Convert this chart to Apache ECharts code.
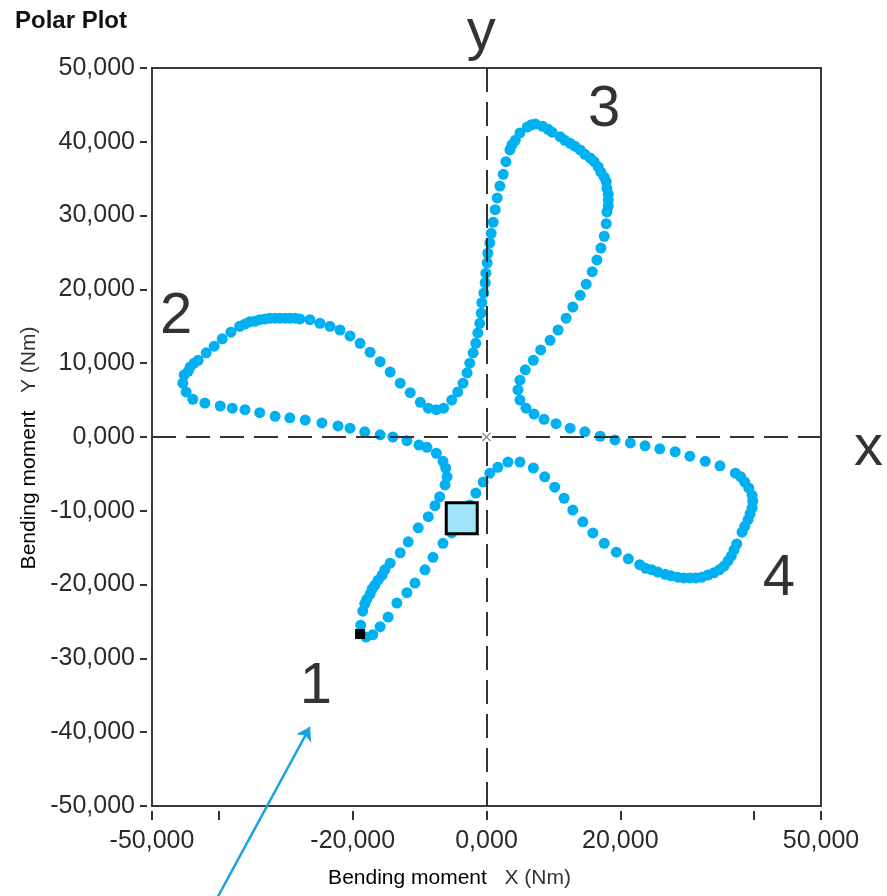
<!DOCTYPE html>
<html>
<head>
<meta charset="utf-8">
<script src="https://cdn.jsdelivr.net/npm/echarts@6/dist/echarts.min.js"></script>
<style>
  html, body { margin: 0; padding: 0; background: #fff; }
  #chart { width: 887px; height: 896px; }
</style>
</head>
<body>
<div id="chart"></div>
<script>
// Axis ticks / labels (values in Nm)
const xTickValues = [-50, -40, -20, 0, 20, 40, 50];
const xLabelValues = [-50, -20, 0, 20, 50];
const yTickValues = [-50, -40, -30, -20, -10, 0, 10, 20, 30, 40, 50];

// Bending moment trace, [X, Y] in Nm, in recording order
const tracePoints = [
  [-18.8,-25.5],[-18.5,-23.6],[-18.2,-22.6],[-17.9,-22.0],[-17.4,-21.3],[-17.1,-20.6],[-16.7,-20.1],[-16.2,-19.4],
  [-15.6,-18.7],[-15.2,-18.0],[-14.4,-17.1],[-12.9,-15.7],[-11.7,-14.2],[-10.2,-12.3],[-8.7,-10.8],[-7.7,-9.3],
  [-7.0,-8.1],[-6.2,-6.5],[-5.9,-5.4],[-6.1,-4.2],[-6.5,-3.3],[-7.5,-2.2],[-8.9,-1.4],[-10.1,-1.1],[-11.9,-0.5],
  [-14.0,0.0],[-15.9,0.3],[-18.2,0.7],[-20.4,1.2],[-22.2,1.5],[-24.6,1.9],[-27.1,2.3],[-29.4,2.6],[-31.6,2.8],
  [-33.9,3.3],[-36.1,3.7],[-38.0,3.9],[-39.8,4.2],[-42.1,4.6],[-43.9,5.1],[-44.9,6.1],[-45.4,7.3],[-45.2,8.4],
  [-44.6,8.9],[-44.3,9.5],[-43.7,10.0],[-43.1,10.4],[-41.9,11.4],[-40.7,12.3],[-39.5,13.3],[-38.2,14.2],[-36.9,15.0],
  [-36.1,15.3],[-35.4,15.6],[-34.6,15.7],[-33.9,15.9],[-33.1,16.0],[-32.4,16.1],[-31.6,16.1],[-30.9,16.1],[-30.1,16.1],
  [-29.4,16.1],[-28.6,16.1],[-27.9,16.0],[-26.4,15.9],[-24.9,15.4],[-23.4,15.0],[-21.9,14.5],[-20.4,13.7],[-18.9,12.7],
  [-17.4,11.5],[-15.9,10.2],[-14.4,8.8],[-12.9,7.3],[-11.4,6.0],[-9.9,4.7],[-8.7,3.9],[-7.5,3.7],[-6.4,3.9],[-5.2,5.0],
  [-4.3,6.1],[-3.5,7.3],[-2.9,8.7],[-2.5,10.0],[-2.0,11.4],[-1.6,12.7],[-1.3,14.1],[-1.0,15.4],[-0.8,16.8],[-0.7,18.2],
  [-0.4,19.5],[-0.2,20.9],[-0.1,22.2],[0.1,23.6],[0.2,24.9],[0.5,26.3],[0.7,27.6],[1.0,29.1],[1.3,30.8],[1.6,32.4],
  [2.0,34.0],[2.5,35.6],[2.9,37.3],[3.5,38.9],[3.8,39.6],[4.3,40.2],[5.0,41.2],[6.1,42.0],[6.7,42.3],[7.3,42.4],
  [8.4,42.1],[9.2,41.7],[9.8,41.3],[11.0,40.7],[11.7,40.2],[12.5,39.8],[13.2,39.4],[14.0,38.9],[14.7,38.3],[15.5,37.8],
  [16.1,37.3],[16.7,36.6],[17.1,35.9],[17.6,35.2],[17.9,34.6],[18.0,33.7],[18.2,32.9],[18.2,32.1],[18.2,31.3],[18.0,30.5],
  [17.9,28.9],[17.6,27.2],[17.1,25.6],[16.5,24.0],[15.8,22.4],[14.9,20.7],[14.0,19.2],[12.9,17.6],[11.9,16.1],[10.7,14.5],
  [9.5,13.1],[8.1,11.8],[7.0,10.4],[5.8,9.1],[5.0,7.7],[4.7,6.4],[5.0,5.0],[5.9,3.9],[7.1,3.1],[8.6,2.4],[10.4,1.8],
  [12.5,1.2],[14.7,0.7],[17.0,0.1],[19.2,-0.4],[21.5,-0.8],[23.7,-1.2],[25.9,-1.6],[28.2,-2.0],[30.4,-2.6],[32.7,-3.3],
  [34.9,-3.9],[37.2,-4.9],[38.0,-5.4],[38.6,-6.1],[39.2,-6.9],[39.7,-7.9],[39.8,-8.7],[39.7,-9.6],[39.4,-10.4],[39.1,-11.2],
  [38.6,-12.1],[38.2,-12.9],[37.4,-14.5],[37.0,-15.3],[36.6,-16.1],[36.1,-16.8],[35.5,-17.5],[34.8,-18.0],[34.0,-18.4],
  [33.1,-18.7],[32.2,-19.0],[31.3,-19.1],[30.4,-19.1],[29.5,-19.1],[28.6,-19.0],[27.6,-18.8],[26.7,-18.6],[25.6,-18.3],
  [24.7,-18.0],[23.8,-17.8],[22.9,-17.3],[21.2,-16.5],[19.4,-15.6],[17.6,-14.4],[15.9,-13.0],[14.4,-11.5],[12.9,-9.9],
  [11.6,-8.3],[10.2,-6.8],[8.7,-5.4],[7.0,-4.2],[5.0,-3.4],[3.2,-3.4],[1.7,-4.1],[0.5,-4.9],[-0.5,-6.1],[-1.6,-7.6],
  [-2.5,-9.2],[-4.0,-11.2],[-5.2,-13.0],[-6.5,-14.4],[-8.0,-16.3],[-9.2,-18.0],[-10.7,-19.8],[-11.9,-21.1],[-13.4,-22.5],
  [-14.7,-24.4],[-15.9,-25.7],[-17.0,-26.8],[-18.0,-27.1]
];

// First sample and current position
const startPoint = [-18.9, -26.7];
const currentPoint = [-3.7, -11.0];

// Lobe numbering and axis letters
const lobeLabels = ['1', '2', '3', '4'];
const lobeLabelPos = [[-25.5, -33.9], [-46.4, 16.3], [17.6, 44.3], [43.7, -19.3]];
const axisLetters = ['x', 'y'];
const axisLetterPos = [[57.1, -1.6], [-0.8, 54.8]];

// Pointer arrow towards lobe 1
const arrowFrom = [-40.4, -62.7];
const arrowTo = [-26.4, -39.3];

const fmt = v => v.toFixed(3).replace('.', ',');
const labelFont = "'Liberation Sans', Arial, sans-serif";
const nameFont = "'Liberation Sans', Arial, sans-serif";
const crossPath = 'path://M1,0L5,4L9,0L10,1L6,5L10,9L9,10L5,6L1,10L0,9L4,5L0,1Z';

const chart = echarts.init(document.getElementById('chart'), null, { renderer: 'canvas' });

chart.setOption({
  animation: false,
  backgroundColor: '#ffffff',
  title: {
    text: 'Polar Plot',
    left: 10, top: 4,
    textStyle: { fontFamily: nameFont, fontWeight: 'bold', fontSize: 24, color: '#111' }
  },
  grid: {
    left: 152, right: 66, top: 68, bottom: 90,
    show: true, borderColor: '#3a3a3a', borderWidth: 2
  },
  xAxis: {
    type: 'value', min: -50, max: 50, interval: 10, offset: 5,
    axisLine: { show: false, onZero: false },
    splitLine: { show: false },
    axisTick: { show: true, length: 9, customValues: xTickValues, lineStyle: { color: '#333', width: 2 } },
    axisLabel: { customValues: xLabelValues, formatter: fmt, margin: 18,
      fontFamily: labelFont, fontSize: 25, color: '#2a2a2a' },
    name: '{a|Bending moment}{b|   X (Nm)}',
    nameLocation: 'middle', nameGap: 57,
    nameTextStyle: {
      padding: [0, 74, 0, 0],
      rich: {
        a: { fontFamily: nameFont, fontSize: 21, color: '#000' },
        b: { fontFamily: nameFont, fontSize: 21, color: '#333' }
      }
    }
  },
  yAxis: {
    type: 'value', min: -50, max: 50, interval: 10, offset: 5,
    axisLine: { show: false, onZero: false },
    splitLine: { show: false },
    axisTick: { show: true, length: 7, customValues: yTickValues, lineStyle: { color: '#333', width: 2 } },
    axisLabel: { formatter: fmt, margin: 12, fontFamily: labelFont, fontSize: 25, color: '#2a2a2a' },
    name: '{a|Bending moment}{b|   Y (Nm)}',
    nameLocation: 'middle', nameGap: 87,
    nameTextStyle: {
      padding: [0, 22, 0, 0],
      rich: {
        a: { fontFamily: nameFont, fontSize: 21, color: '#000' },
        b: { fontFamily: nameFont, fontSize: 21, color: '#333' }
      }
    }
  },
  series: [
    {
      // origin marker with dashed zero lines
      type: 'scatter', z: 1, silent: true,
      symbol: crossPath, symbolSize: 9,
      itemStyle: { color: '#8a8a8a', opacity: 1 },
      data: [[0, 0]],
      markLine: {
        silent: true, symbol: ['none', 'none'],
        label: { show: false },
        lineStyle: { type: [24, 10], color: '#333', width: 2 },
        data: [{ xAxis: 0 }, { yAxis: 0 }]
      }
    },
    {
      type: 'scatter', z: 2, silent: true,
      symbol: 'circle', symbolSize: 11,
      itemStyle: { color: '#00b0f0', opacity: 1 },
      data: tracePoints
    },
    {
      type: 'scatter', z: 3, silent: true,
      symbol: 'rect', symbolSize: 10,
      itemStyle: { color: '#000', opacity: 1 },
      data: [startPoint]
    },
    {
      type: 'scatter', z: 3, silent: true,
      symbol: 'rect', symbolSize: 31,
      itemStyle: { color: '#9fe4fb', borderColor: '#000', borderWidth: 3, opacity: 1 },
      data: [currentPoint]
    },
    {
      type: 'scatter', z: 4, silent: true, clip: false,
      symbolSize: 1, itemStyle: { color: 'rgba(0,0,0,0)' },
      label: { show: true, position: 'inside', formatter: '{b}',
        fontFamily: nameFont, fontSize: 58, color: '#000', textBorderWidth: 0 },
      data: lobeLabels.map((t, i) => ({ name: t, value: lobeLabelPos[i] }))
        .concat(axisLetters.map((t, i) => ({ name: t, value: axisLetterPos[i] })))
    },
    {
      type: 'lines', coordinateSystem: 'cartesian2d', z: 4, silent: true, clip: false,
      symbol: ['none', 'arrow'], symbolSize: 13,
      lineStyle: { color: '#1aa3df', width: 2.5, opacity: 1 },
      data: [{ coords: [arrowFrom, arrowTo] }]
    }
  ]
});
</script>
</body>
</html>
